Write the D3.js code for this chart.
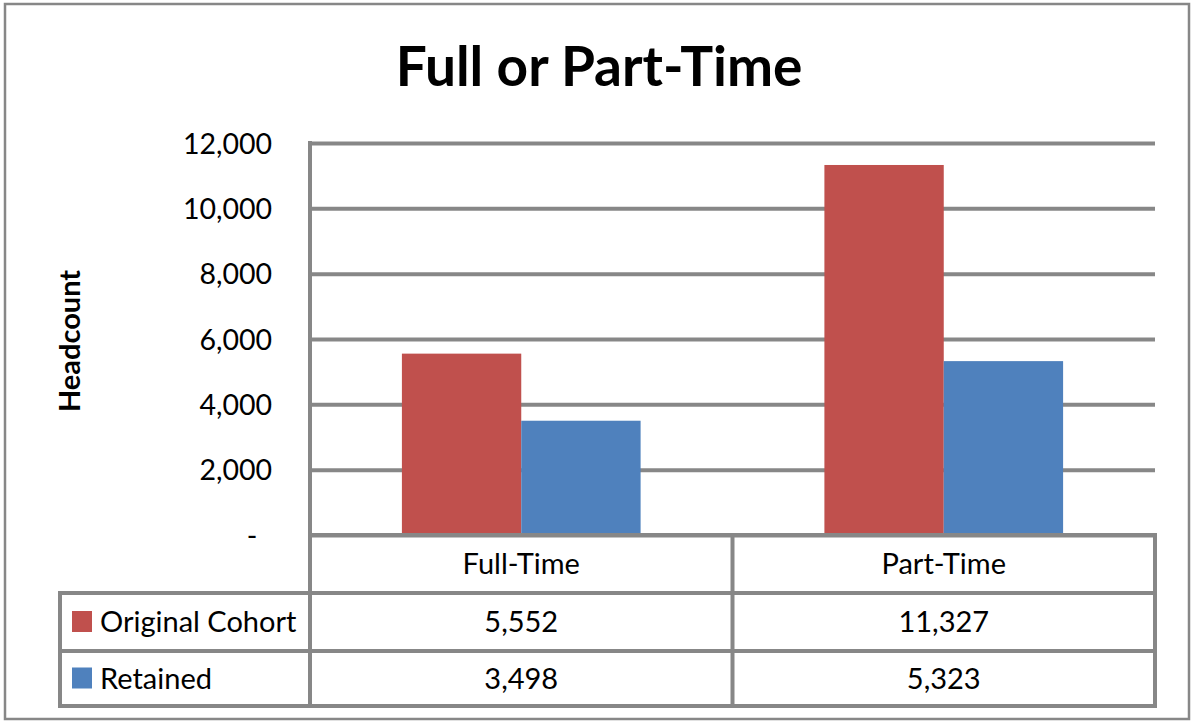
<!DOCTYPE html>
<html>
<head>
<meta charset="utf-8">
<script src="https://cdn.jsdelivr.net/npm/d3@7"></script>
<style>
  body { margin: 0; background: #fff; }
  svg text { font-family: Lato, "Open Sans", sans-serif; fill: #000; }
</style>
</head>
<body>
<div class="chart"></div>
<script>
var categories = ['Full-Time', 'Part-Time'];
var seriesNames = ['Original Cohort', 'Retained'];
var originalCohort = [5552, 11327];
var retained = [3498, 5323];
var yTicks = [0, 2000, 4000, 6000, 8000, 10000, 12000];
var colors = ['#C0504D', '#4F81BD'];

var W = 1192, H = 723;
var plot = { left: 310, right: 1155, top: 143, bottom: 535 };
var table = { left: 60, rows: [535, 593, 651, 706] };
var gridColor = '#878787';

var svg = d3.select('.chart')
    .append('svg')
    .attr('width', W)
    .attr('height', H);

// outer frame
svg.append('rect')
    .attr('x', 5).attr('y', 4)
    .attr('width', 1184).attr('height', 715)
    .attr('fill', '#fff')
    .attr('stroke', gridColor)
    .attr('stroke-width', 2.5);

// title
svg.append('text')
    .attr('x', 599).attr('y', 86)
    .attr('text-anchor', 'middle')
    .style('font-size', '55px')
    .style('font-weight', 'bold')
    .text('Full or Part-Time');

var yScale = d3.scaleLinear()
    .domain([0, 12000])
    .range([plot.bottom, plot.top]);

var xScale = d3.scaleBand()
    .domain(categories)
    .range([plot.left, plot.right])
    .padding(0);

var xSub = d3.scaleBand()
    .domain(seriesNames)
    .range([0, xScale.bandwidth()])
    .paddingInner(0)
    .paddingOuter(0.77);

// y axis + gridlines
var yAxis = d3.axisLeft(yScale)
    .tickValues(yTicks)
    .tickSizeInner(-(plot.right - plot.left))
    .tickSizeOuter(0)
    .tickPadding(38)
    .tickFormat(d => d === 0 ? '-  ' : d3.format(',')(d));

var yg = svg.append('g')
    .attr('transform', `translate(${plot.left}, 0)`)
    .call(yAxis);
yg.select('.domain').remove();
yg.selectAll('.tick line')
    .attr('stroke', gridColor)
    .attr('stroke-width', 4);
yg.selectAll('.tick text')
    .style('font-size', '28.5px')
    .style('white-space', 'pre')
    .attr('dy', '0.36em');

// y label
svg.append('text')
    .attr('transform', 'translate(80, 341) rotate(-90)')
    .attr('text-anchor', 'middle')
    .style('font-size', '29px')
    .style('font-weight', 'bold')
    .text('Headcount');

// bars
var series = [originalCohort, retained];
var groups = svg.selectAll('.cat')
    .data(categories)
    .enter()
    .append('g')
    .attr('class', 'cat')
    .attr('transform', d => `translate(${xScale(d)}, 0)`);

groups.selectAll('rect')
    .data((d, i) => seriesNames.map((s, j) => ({ name: s, value: series[j][i], color: colors[j] })))
    .enter()
    .append('rect')
    .attr('x', d => xSub(d.name))
    .attr('y', d => yScale(d.value))
    .attr('width', xSub.bandwidth())
    .attr('height', d => yScale(0) - yScale(d.value))
    .attr('fill', d => d.color);

// data table lines
var lines = svg.append('g')
    .attr('stroke', gridColor)
    .attr('stroke-width', 4)
    .attr('stroke-linecap', 'square');

lines.append('line')
    .attr('x1', plot.left).attr('x2', plot.right)
    .attr('y1', table.rows[0]).attr('y2', table.rows[0]);
table.rows.slice(1).forEach(function (y) {
    lines.append('line')
        .attr('x1', table.left).attr('x2', plot.right)
        .attr('y1', y).attr('y2', y);
});
lines.append('line')
    .attr('x1', table.left).attr('x2', table.left)
    .attr('y1', table.rows[1]).attr('y2', table.rows[3]);
lines.append('line')
    .attr('x1', plot.left).attr('x2', plot.left)
    .attr('y1', plot.top).attr('y2', table.rows[3]);
categories.forEach(function (c) {
    var xr = xScale(c) + xScale.bandwidth();
    lines.append('line')
        .attr('x1', xr).attr('x2', xr)
        .attr('y1', table.rows[0]).attr('y2', table.rows[3]);
});

// category row
svg.selectAll('.catlabel')
    .data(categories)
    .enter()
    .append('text')
    .attr('class', 'catlabel')
    .attr('x', d => xScale(d) + xScale.bandwidth() / 2)
    .attr('y', (table.rows[0] + table.rows[1]) / 2)
    .attr('dy', '0.36em')
    .attr('text-anchor', 'middle')
    .style('font-size', '29px')
    .text(d => d);

// value rows with legend keys
seriesNames.forEach(function (name, j) {
    var cy = (table.rows[j + 1] + table.rows[j + 2]) / 2;
    svg.append('rect')
        .attr('x', 72).attr('y', cy - 11)
        .attr('width', 20).attr('height', 21)
        .attr('fill', colors[j]);
    svg.append('text')
        .attr('x', 100).attr('y', cy)
        .attr('dy', '0.36em')
        .style('font-size', '29px')
        .text(name);
    svg.selectAll('.val' + j)
        .data(categories)
        .enter()
        .append('text')
        .attr('x', d => xScale(d) + xScale.bandwidth() / 2)
        .attr('y', cy)
        .attr('dy', '0.36em')
        .attr('text-anchor', 'middle')
        .style('font-size', '29px')
        .text((d, i) => d3.format(',')(series[j][i]));
});
</script>
</body>
</html>
